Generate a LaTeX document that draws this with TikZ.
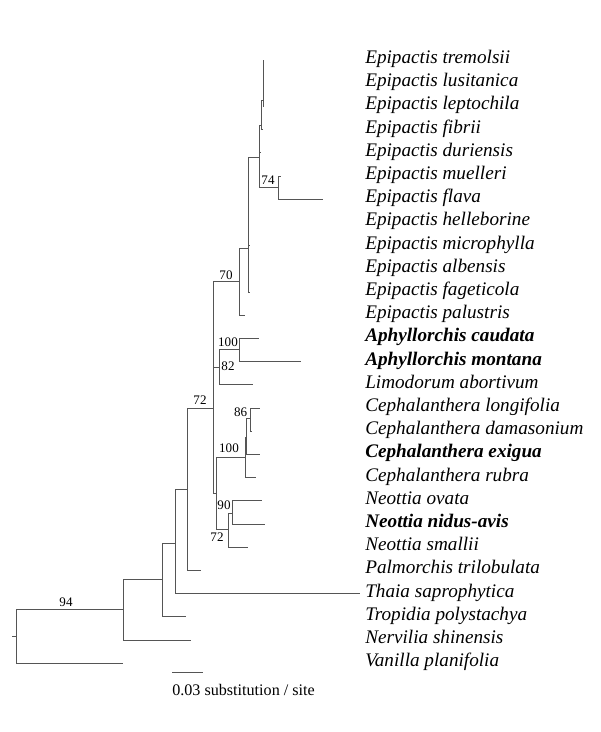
\documentclass[tikz,border=0pt]{standalone}
\usepackage{fontspec}
\setmainfont{Liberation Serif}
\usetikzlibrary{positioning}
\definecolor{tgray}{HTML}{555555}
\tikzset{
  branch/.style={draw=tgray, line width=0.6pt},
  taxon/.style={anchor=base west, inner sep=0pt, font=\fontsize{14.4}{17}\selectfont\itshape},
  keytaxon/.style={taxon, font=\fontsize{14.4}{17}\selectfont\bfseries\itshape},
  boot/.style={inner sep=0pt, font=\fontsize{9.8}{11}\selectfont},
  scaletext/.style={inner sep=0pt, font=\fontsize{12.1}{14}\selectfont}
}
\begin{document}
\begin{tikzpicture}[x=0.75pt, y=-0.75pt]
  \useasboundingbox (0,0) rectangle (600,732);

  % internal nodes
  \coordinate (r0) at (12,636);
  \coordinate (r) at (16,636);
  \coordinate (n94) at (123,609);
  \coordinate (n1) at (162.7,579);
  \coordinate (n2) at (175,543);
  \coordinate (n3) at (187.7,489);
  \coordinate (n72) at (213.5,408);
  \coordinate (n70) at (239,281);
  \coordinate (nE) at (248,248);
  \coordinate (nTop) at (259.7,157);
  \coordinate (nB) at (261.7,125);
  \coordinate (nA) at (263.3,100);
  \coordinate (n74) at (278.3,187.5);
  \coordinate (nAph) at (219,367);
  \coordinate (n100) at (239,349);
  \coordinate (nCN) at (216,493);
  \coordinate (nCe) at (245,457);
  \coordinate (nCB) at (246.5,437);
  \coordinate (n86) at (250.7,418);
  \coordinate (n72b) at (228,529);
  \coordinate (n90) at (232,513);

  % tips
  \coordinate (t0) at (263.3,60);
  \coordinate (t1) at (263.3,83.2);
  \coordinate (t2) at (263.8,106.4);
  \coordinate (t3) at (262.3,129.6);
  \coordinate (t4) at (260.5,152.8);
  \coordinate (t5) at (281,176);
  \coordinate (t6) at (323,199.2);
  \coordinate (t7) at (249,222.4);
  \coordinate (t8) at (250,245.6);
  \coordinate (t9) at (249,268.8);
  \coordinate (t10) at (250,292);
  \coordinate (t11) at (245,315.2);
  \coordinate (t12) at (259,338.4);
  \coordinate (t13) at (301,361.6);
  \coordinate (t14) at (253,384.8);
  \coordinate (t15) at (260,408);
  \coordinate (t16) at (252,431.2);
  \coordinate (t17) at (260,454.4);
  \coordinate (t18) at (255.5,477.6);
  \coordinate (t19) at (262,500.8);
  \coordinate (t20) at (265,524);
  \coordinate (t21) at (248,547.2);
  \coordinate (t22) at (200.7,570.4);
  \coordinate (t23) at (360,593.6);
  \coordinate (t24) at (186,616.8);
  \coordinate (t25) at (191,640);
  \coordinate (t26) at (123,663.2);

  % branches
  \draw[branch] (r0) -- (r);
  \draw[branch] (r) |- (n94);
  \draw[branch] (r) |- (t26);
  \draw[branch] (n94) |- (n1);
  \draw[branch] (n94) |- (t25);
  \draw[branch] (n1) |- (n2);
  \draw[branch] (n1) |- (t24);
  \draw[branch] (n2) |- (n3);
  \draw[branch] (n2) |- (t23);
  \draw[branch] (n3) |- (n72);
  \draw[branch] (n3) |- (t22);
  \draw[branch] (n72) |- (n70);
  \draw[branch] (n72) |- (nAph);
  \draw[branch] (n72) |- (nCN);
  \draw[branch] (n70) |- (nE);
  \draw[branch] (n70) |- (t11);
  \draw[branch] (nE) |- (nTop);
  \draw[branch] (nE) |- (t7);
  \draw[branch] (nE) |- (t8);
  \draw[branch] (nE) |- (t9);
  \draw[branch] (nE) |- (t10);
  \draw[branch] (nTop) |- (nB);
  \draw[branch] (nTop) |- (t4);
  \draw[branch] (nTop) |- (n74);
  \draw[branch] (nB) |- (nA);
  \draw[branch] (nB) |- (t3);
  \draw[branch] (nA) |- (t0);
  \draw[branch] (nA) |- (t1);
  \draw[branch] (nA) |- (t2);
  \draw[branch] (n74) |- (t5);
  \draw[branch] (n74) |- (t6);
  \draw[branch] (nAph) |- (n100);
  \draw[branch] (nAph) |- (t14);
  \draw[branch] (n100) |- (t12);
  \draw[branch] (n100) |- (t13);
  \draw[branch] (nCN) |- (nCe);
  \draw[branch] (nCN) |- (n72b);
  \draw[branch] (nCe) |- (nCB);
  \draw[branch] (nCe) |- (t18);
  \draw[branch] (nCB) |- (n86);
  \draw[branch] (nCB) |- (t17);
  \draw[branch] (n86) |- (t15);
  \draw[branch] (n86) |- (t16);
  \draw[branch] (n72b) |- (n90);
  \draw[branch] (n72b) |- (t21);
  \draw[branch] (n90) |- (t19);
  \draw[branch] (n90) |- (t20);

  % bootstrap values
  \node[boot] (b94) at (66,602) {94};
  \node[boot] (b74) at (268,180) {74};
  \node[boot] (b70) at (226,275) {70};
  \node[boot] (b100a) at (228,342) {100};
  \node[boot] (b82) at (228,366) {82};
  \node[boot] (b72a) at (200,400) {72};
  \node[boot] (b86) at (240.7,412) {86};
  \node[boot] (b100b) at (229,448) {100};
  \node[boot] (b90) at (224,505) {90};
  \node[boot] (b72b) at (217,537) {72};

  % taxa
  \node[taxon] (l0) at (365,63.5) {Epipactis tremolsii};
  \node[taxon] (l1) at (365,86.7) {Epipactis lusitanica};
  \node[taxon] (l2) at (365,109.9) {Epipactis leptochila};
  \node[taxon] (l3) at (365,133.1) {Epipactis fibrii};
  \node[taxon] (l4) at (365,156.3) {Epipactis duriensis};
  \node[taxon] (l5) at (365,179.5) {Epipactis muelleri};
  \node[taxon] (l6) at (365,202.7) {Epipactis flava};
  \node[taxon] (l7) at (365,225.9) {Epipactis helleborine};
  \node[taxon] (l8) at (365,249.1) {Epipactis microphylla};
  \node[taxon] (l9) at (365,272.3) {Epipactis albensis};
  \node[taxon] (l10) at (365,295.5) {Epipactis fageticola};
  \node[taxon] (l11) at (365,318.7) {Epipactis palustris};
  \node[keytaxon] (l12) at (365,341.9) {Aphyllorchis caudata};
  \node[keytaxon] (l13) at (365,365.1) {Aphyllorchis montana};
  \node[taxon] (l14) at (365,388.3) {Limodorum abortivum};
  \node[taxon] (l15) at (365,411.5) {Cephalanthera longifolia};
  \node[taxon] (l16) at (365,434.7) {Cephalanthera damasonium};
  \node[keytaxon] (l17) at (365,457.9) {Cephalanthera exigua};
  \node[taxon] (l18) at (365,481.1) {Cephalanthera rubra};
  \node[taxon] (l19) at (365,504.3) {Neottia ovata};
  \node[keytaxon] (l20) at (365,527.5) {Neottia nidus-avis};
  \node[taxon] (l21) at (365,550.7) {Neottia smallii};
  \node[taxon] (l22) at (365,573.9) {Palmorchis trilobulata};
  \node[taxon] (l23) at (365,597.1) {Thaia saprophytica};
  \node[taxon] (l24) at (365,620.3) {Tropidia polystachya};
  \node[taxon] (l25) at (365,643.5) {Nervilia shinensis};
  \node[taxon] (l26) at (365,666.7) {Vanilla planifolia};

  % scale bar
  \coordinate (s0) at (172,672);
  \coordinate (s1) at (203,672);
  \draw[branch] (s0) -- (s1);
  \node[scaletext, anchor=west] (stext) at (172,690) {0.03 substitution / site};
\end{tikzpicture}
\end{document}
